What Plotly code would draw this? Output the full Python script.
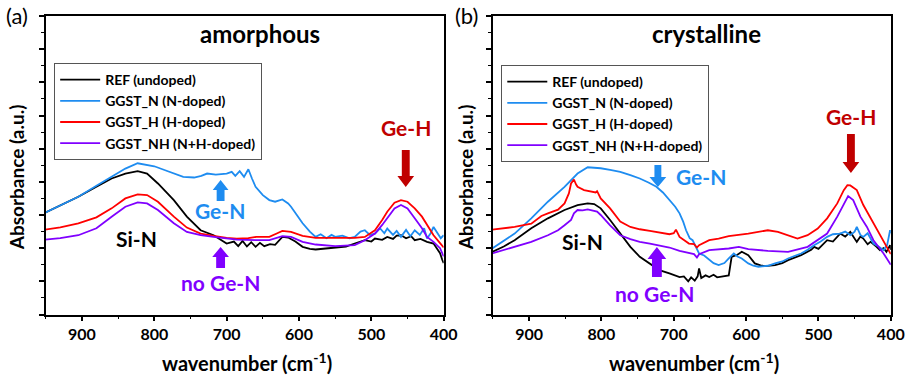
import plotly.graph_objects as go

W, H = 924, 377

# ---------------- data (wavenumber, absorbance in arbitrary units) ----------------
# Panel (a) amorphous
a_ref_w = [951, 930, 905, 880, 859, 840, 823, 810, 795, 773, 755, 736, 718, 700, 690, 684, 678, 672, 666, 660, 654, 648, 640, 633, 623, 615, 605, 595, 585, 577, 565, 550, 535, 523, 509, 500, 495, 485, 478, 470, 465, 459, 452, 445, 440, 432, 423, 414, 408, 405, 402, 400]
a_ref_y = [3.07, 3.28, 3.55, 3.85, 4.10, 4.25, 4.32, 4.25, 3.95, 3.45, 2.95, 2.54, 2.39, 2.14, 2.20, 2.06, 2.22, 2.05, 2.18, 2.04, 2.16, 2.06, 2.12, 2.10, 2.34, 2.32, 2.20, 2.04, 1.98, 1.96, 1.99, 2.02, 2.05, 2.14, 2.24, 2.20, 2.29, 2.25, 2.34, 2.28, 2.38, 2.39, 2.30, 2.36, 2.24, 2.28, 2.19, 2.14, 1.95, 1.85, 1.65, 1.55]

a_n_w = [951, 930, 905, 880, 859, 840, 823, 810, 800, 785, 773, 760, 745, 735, 727, 715, 700, 693, 688, 682, 676, 670, 665, 660, 650, 641, 633, 623, 615, 611, 603, 595, 585, 577, 570, 562, 555, 550, 540, 530, 523, 515, 509, 502, 495, 488, 482, 478, 470, 465, 459, 452, 446, 440, 433, 427, 423, 418, 414, 408, 404, 400]
a_n_y = [3.07, 3.30, 3.55, 3.88, 4.15, 4.40, 4.56, 4.52, 4.47, 4.35, 4.25, 4.15, 4.13, 4.18, 4.25, 4.22, 4.25, 4.30, 4.18, 4.32, 4.15, 4.38, 4.10, 3.85, 3.60, 3.45, 3.40, 3.47, 3.35, 3.25, 3.00, 2.75, 2.50, 2.34, 2.42, 2.30, 2.40, 2.34, 2.38, 2.30, 2.34, 2.50, 2.54, 2.40, 2.44, 2.60, 2.45, 2.59, 2.40, 2.52, 2.34, 2.55, 2.36, 2.54, 2.40, 2.60, 2.29, 2.45, 2.64, 2.42, 2.30, 2.39]

a_h_w = [951, 930, 905, 880, 859, 840, 823, 810, 795, 773, 755, 736, 718, 700, 686, 670, 659, 641, 630, 623, 611, 595, 577, 550, 523, 509, 495, 485, 478, 468, 459, 450, 440, 430, 423, 414, 405, 400]
a_h_y = [2.56, 2.63, 2.75, 2.93, 3.20, 3.50, 3.62, 3.60, 3.40, 2.95, 2.62, 2.44, 2.37, 2.31, 2.29, 2.30, 2.34, 2.34, 2.45, 2.52, 2.49, 2.37, 2.31, 2.31, 2.31, 2.34, 2.54, 2.85, 3.10, 3.37, 3.45, 3.40, 3.20, 2.95, 2.69, 2.39, 2.15, 2.02]

a_nh_w = [951, 930, 905, 880, 859, 840, 823, 810, 795, 773, 755, 736, 718, 700, 686, 659, 641, 623, 611, 595, 577, 550, 523, 509, 495, 485, 478, 468, 459, 450, 440, 430, 423, 414, 405, 400]
a_nh_y = [2.26, 2.30, 2.39, 2.60, 2.95, 3.25, 3.38, 3.35, 3.15, 2.75, 2.49, 2.39, 2.34, 2.29, 2.26, 2.24, 2.24, 2.36, 2.34, 2.19, 2.11, 2.06, 2.09, 2.24, 2.44, 2.70, 2.90, 3.20, 3.30, 3.20, 2.90, 2.60, 2.34, 2.19, 2.00, 1.75]

# Panel (b) crystalline
b_ref_w = [951, 935, 920, 897, 874, 851, 833, 819, 810, 801, 788, 774, 760, 747, 733, 720, 706, 692, 686, 680, 676, 671, 667, 665, 662, 656, 651, 645, 640, 633, 624, 620, 612, 606, 600, 597, 588, 580, 574, 560, 550, 542, 524, 510, 506, 500, 488, 480, 470, 463, 456, 450, 447, 442, 438, 432, 428, 420, 415, 410, 406, 401, 400]
b_ref_y = [1.89, 2.05, 2.24, 2.60, 2.90, 3.15, 3.30, 3.35, 3.33, 3.20, 2.85, 2.44, 2.04, 1.74, 1.54, 1.34, 1.24, 1.13, 1.15, 1.00, 1.12, 1.02, 1.15, 1.39, 1.10, 1.18, 1.13, 1.20, 1.12, 1.15, 1.18, 1.74, 1.80, 1.89, 1.82, 1.79, 1.54, 1.48, 1.46, 1.49, 1.55, 1.64, 1.79, 1.95, 2.04, 1.98, 2.24, 2.20, 2.44, 2.35, 2.49, 2.30, 2.19, 2.35, 2.29, 2.12, 2.19, 2.05, 1.94, 2.00, 1.89, 2.09, 1.95]

b_n_w = [951, 935, 920, 897, 874, 851, 833, 819, 801, 788, 774, 760, 747, 735, 724, 715, 706, 698, 692, 687, 683, 678, 674, 670, 665, 658, 651, 645, 638, 630, 624, 617, 612, 606, 597, 590, 583, 570, 560, 550, 542, 535, 524, 515, 506, 497, 488, 480, 470, 463, 456, 450, 447, 442, 438, 432, 424, 417, 410, 405, 401, 400]
b_n_y = [1.99, 2.22, 2.44, 2.90, 3.40, 3.85, 4.25, 4.44, 4.41, 4.36, 4.30, 4.20, 4.10, 3.98, 3.85, 3.68, 3.45, 3.25, 3.05, 2.80, 2.54, 2.30, 2.24, 2.05, 1.84, 1.78, 1.64, 1.55, 1.49, 1.55, 1.69, 1.84, 1.75, 1.69, 1.54, 1.47, 1.44, 1.47, 1.54, 1.60, 1.69, 1.75, 1.84, 1.95, 2.09, 2.20, 2.34, 2.42, 2.44, 2.50, 2.39, 2.50, 2.64, 2.40, 2.34, 2.45, 2.14, 2.05, 1.94, 2.10, 2.54, 2.45]

b_h_w = [951, 935, 920, 897, 883, 874, 860, 851, 845, 842, 838, 835, 833, 824, 815, 808, 806, 801, 788, 774, 760, 747, 733, 720, 706, 700, 697, 692, 685, 679, 672, 668, 665, 651, 638, 624, 597, 570, 556, 542, 529, 515, 501, 488, 474, 465, 460, 456, 447, 438, 424, 410, 401, 400]
b_h_y = [2.56, 2.60, 2.64, 2.74, 2.97, 3.05, 3.16, 3.35, 3.65, 3.95, 4.07, 3.92, 3.85, 3.75, 3.70, 3.68, 3.72, 3.50, 3.20, 2.80, 2.64, 2.57, 2.52, 2.48, 2.42, 2.45, 2.56, 2.34, 2.22, 2.14, 2.12, 2.02, 2.09, 2.24, 2.29, 2.36, 2.44, 2.54, 2.49, 2.39, 2.29, 2.39, 2.59, 2.90, 3.35, 3.75, 3.90, 3.89, 3.75, 3.30, 2.75, 2.24, 1.86, 1.82]

b_nh_w = [951, 920, 897, 874, 860, 851, 842, 838, 833, 826, 819, 806, 801, 788, 774, 760, 747, 733, 720, 706, 692, 679, 672, 668, 665, 651, 624, 610, 597, 570, 542, 515, 501, 488, 474, 465, 459, 452, 442, 433, 424, 410, 401, 400]
b_nh_y = [1.84, 2.04, 2.19, 2.39, 2.54, 2.69, 2.85, 3.05, 3.15, 3.14, 3.17, 3.10, 3.00, 2.69, 2.39, 2.27, 2.19, 2.14, 2.09, 2.02, 1.92, 1.84, 1.82, 1.72, 1.82, 1.94, 1.99, 2.04, 1.97, 1.92, 1.89, 2.04, 2.24, 2.44, 2.95, 3.30, 3.57, 3.45, 2.95, 2.64, 2.24, 1.84, 1.54, 1.50]

series_names = ["REF (undoped)", "GGST_N (N-doped)", "GGST_H (H-doped)", "GGST_NH (N+H-doped)"]
series_colors = ["#000000", "#1E8CF0", "#FF0000", "#8000FF"]
panel_titles = ["amorphous", "crystalline"]
panel_tags = ["(a)", "(b)"]
x_tick_vals = [900, 800, 700, 600, 500, 400]

FONT = "Lato"

fig = go.Figure()

panels = [
    ("x", "y", "legend", [(a_ref_w, a_ref_y), (a_n_w, a_n_y), (a_h_w, a_h_y), (a_nh_w, a_nh_y)]),
    ("x2", "y2", "legend2", [(b_ref_w, b_ref_y), (b_n_w, b_n_y), (b_h_w, b_h_y), (b_nh_w, b_nh_y)]),
]
for xa, ya, lg, data in panels:
    for (wx, wy), name, col in zip(data, series_names, series_colors):
        fig.add_trace(go.Scatter(x=wx, y=wy, mode="lines", name=name,
                                 line=dict(color=col, width=1.8),
                                 xaxis=xa, yaxis=ya, legend=lg))

# geometry in window pixels
ax_left = [(46.5, 450.5), (500.5, 904.5)]
ax_top, ax_bot = 16, 314.5

def px(x):
    return x / W

def py(y):
    return 1 - y / H

xaxis_common = dict(
    range=[950, 400], tickvals=x_tick_vals, ticks="outside", ticklen=5, tickwidth=1.5,
    tickcolor="black", showline=True, linecolor="black", linewidth=1.5, mirror=True,
    showgrid=False, zeroline=False,
    tickfont=dict(family=FONT, size=16, color="black", weight="bold"),
    minor=dict(dtick=50, tick0=400, ticks="outside", ticklen=3, tickwidth=1.2, tickcolor="black", showgrid=False),
)
yaxis_common = dict(
    range=[0, 9], dtick=1, tick0=0, ticks="outside", ticklen=5, tickwidth=1.5,
    tickcolor="black", showticklabels=False, showline=True, linecolor="black",
    linewidth=1.5, mirror=True, showgrid=False, zeroline=False,
    minor=dict(dtick=0.5, tick0=0, ticks="outside", ticklen=3, tickwidth=1.2, tickcolor="black", showgrid=False),
)

fig.update_layout(
    width=W, height=H, margin=dict(l=0, r=0, t=0, b=0),
    paper_bgcolor="white", plot_bgcolor="white",
    xaxis=dict(domain=[px(ax_left[0][0]), px(ax_left[0][1])], anchor="y", **xaxis_common),
    yaxis=dict(domain=[py(ax_bot), py(ax_top)], anchor="x", **yaxis_common),
    xaxis2=dict(domain=[px(ax_left[1][0]), px(ax_left[1][1])], anchor="y2", **xaxis_common),
    yaxis2=dict(domain=[py(ax_bot), py(ax_top)], anchor="x2", **yaxis_common),
    legend=dict(x=px(55), y=py(63), xanchor="left", yanchor="top", bgcolor="white",
                bordercolor="#555555", borderwidth=1, itemwidth=40,
                font=dict(family=FONT, size=14, color="black", weight="bold")),
    legend2=dict(x=px(509), y=py(65), xanchor="left", yanchor="top", bgcolor="white",
                 bordercolor="#555555", borderwidth=1, itemwidth=40,
                 font=dict(family=FONT, size=14, color="black", weight="bold")),
    showlegend=True,
)

annotations = []

def text(x, y, s, size, color="black", bold=True, angle=0):
    annotations.append(dict(x=px(x), y=py(y), xref="paper", yref="paper", text=s,
                            showarrow=False, xanchor="center", yanchor="middle", textangle=angle,
                            font=dict(family=FONT, size=size, color=color,
                                      weight="bold" if bold else "normal")))

for i, (l, r) in enumerate(ax_left):
    cx = (l + r) / 2
    text(cx + 15, 34, panel_titles[i], 24)
    text(l - 29 if i == 0 else l - 27, 177, "Absorbance (a.u.)", 19, angle=-90)
    text(cx + 2, 362, "wavenumber (cm<sup>-1</sup>)", 20)
    text(17 if i == 0 else 474, 16, panel_tags[i], 22, bold=False)

# annotation labels
text(412, 127, "Ge-H", 21, "#C00000")
text(223, 210, "Ge-N", 21, "#1E8CF0")
text(139, 238, "Si-N", 21)
text(224, 282, "no Ge-N", 21, "#8000FF")

text(864, 116, "Ge-H", 21, "#C00000")
text(712, 177, "Ge-N", 21, "#1E8CF0")
text(591, 241, "Si-N", 21)
text(665, 293, "no Ge-N", 21, "#8000FF")

fig.update_layout(annotations=annotations)

# block arrows (decorations) in window-pixel geometry
def arrow(xc, y_tail, y_tip, color, shaft=8, head=17, head_len=10):
    d = 1 if y_tip > y_tail else -1
    y_base = y_tip - d * head_len
    pts = [
        (xc - shaft / 2, y_tail), (xc + shaft / 2, y_tail),
        (xc + shaft / 2, y_base), (xc + head / 2, y_base),
        (xc, y_tip), (xc - head / 2, y_base), (xc - shaft / 2, y_base),
    ]
    path = "M " + " L ".join(f"{px(a):.5f},{py(b):.5f}" for a, b in pts) + " Z"
    fig.add_shape(type="path", path=path, xref="paper", yref="paper",
                  fillcolor=color, line=dict(width=0), layer="above")

arrow(412, 150, 187, "#C00000", 8, 17, 11)
arrow(224, 201, 180, "#1E8CF0", 8, 16, 10)
arrow(224, 268, 247, "#8000FF", 9, 17, 10)

arrow(864, 134, 173, "#C00000", 8, 17, 11)
arrow(668, 165, 187, "#1E8CF0", 7, 17, 10)
arrow(667, 277, 247, "#8000FF", 10, 19, 12)

# remove the default 8px page margin so the figure sits at the window origin
fig.write_html("out.html", config={"displayModeBar": False},
               post_script="document.body.style.margin='0px';")
